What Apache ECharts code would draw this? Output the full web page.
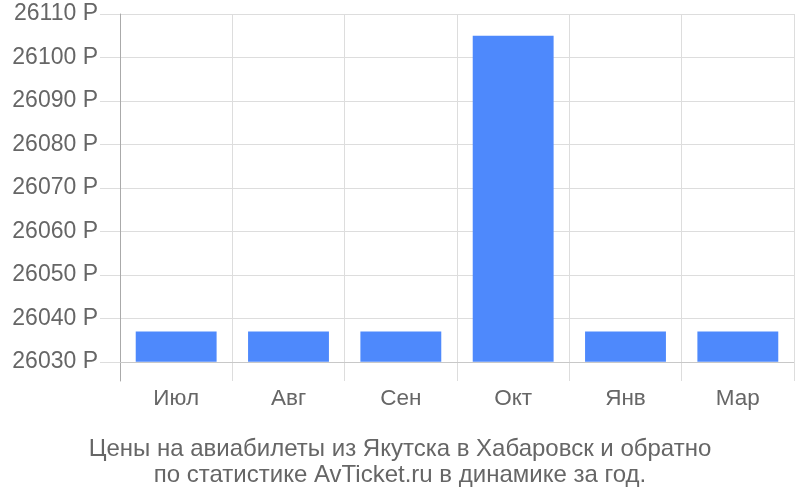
<!DOCTYPE html>
<html>
<head>
<meta charset="utf-8">
<script src="https://cdn.jsdelivr.net/npm/echarts@6/dist/echarts.min.js"></script>
<style>html,body{margin:0;padding:0;background:#fff}#c{width:800px;height:500px}</style>
</head>
<body>
<div id="c"></div>
<script>
const categories = ['Июл', 'Авг', 'Сен', 'Окт', 'Янв', 'Мар'];
const prices = [26037, 26037, 26037, 26105, 26037, 26037];
const yTickValues = [26030, 26040, 26050, 26060, 26070, 26080, 26090, 26100, 26110];
const barBase = 26030;
const yMin = 26025.6;
const yMax = 26110;
const titleLines = ['Цены на авиабилеты из Якутска в Хабаровск и обратно', 'по статистике AvTicket.ru в динамике за год.'];

const FONT = '"Liberation Sans", Arial, sans-serif';
const TEXT = '#666';

const chart = echarts.init(document.getElementById('c'), null, { renderer: 'canvas' });
chart.setOption({
  animation: false,
  backgroundColor: '#fff',
  textStyle: { fontFamily: FONT },
  title: {
    text: titleLines.join('\n'),
    left: 'center',
    top: 431,
    textStyle: { fontFamily: FONT, fontSize: 24, fontWeight: 'normal', color: TEXT, lineHeight: 26 }
  },
  grid: { left: 120, right: 6, top: 14, bottom: 119, containLabel: false },
  xAxis: {
    type: 'category',
    data: categories,
    boundaryGap: true,
    axisLine: { show: false },
    axisTick: { show: false },
    splitLine: { show: true, lineStyle: { color: '#ddd', width: 1 } },
    axisLabel: { color: TEXT, fontSize: 22.5, fontFamily: FONT, margin: 6 }
  },
  yAxis: {
    type: 'value',
    min: yMin,
    max: yMax,
    splitNumber: 8,
    axisLine: { show: true, lineStyle: { color: '#aaa', width: 1 } },
    axisTick: { show: true, length: 20, lineStyle: { color: '#ddd' }, customValues: yTickValues },
    splitLine: { show: true, showMinLine: false, lineStyle: { color: '#ddd', width: 1 } },
    axisLabel: {
      color: TEXT, fontSize: 23, fontFamily: FONT, margin: 22,
      customValues: yTickValues,
      formatter: function (v) { return v + ' Р'; }
    }
  },
  series: [{
    type: 'custom',
    data: prices.map(function (v, i) { return [i, v]; }),
    encode: { x: 0, y: 1 },
    renderItem: function (params, api) {
      const idx = api.value(0);
      const top = api.coord([idx, api.value(1)]);
      const bottom = api.coord([idx, barBase]);
      const w = api.size([1, 0])[0] * 0.72;
      return {
        type: 'rect',
        shape: { x: top[0] - w / 2, y: top[1], width: w, height: bottom[1] - top[1] },
        style: { fill: '#4e89fc' }
      };
    },
    markLine: {
      silent: true,
      symbol: 'none',
      label: { show: false },
      lineStyle: { color: '#c8c8c8', type: 'solid', width: 1 },
      data: [{ yAxis: barBase }]
    },
    z: 3
  }]
});
</script>
</body>
</html>
